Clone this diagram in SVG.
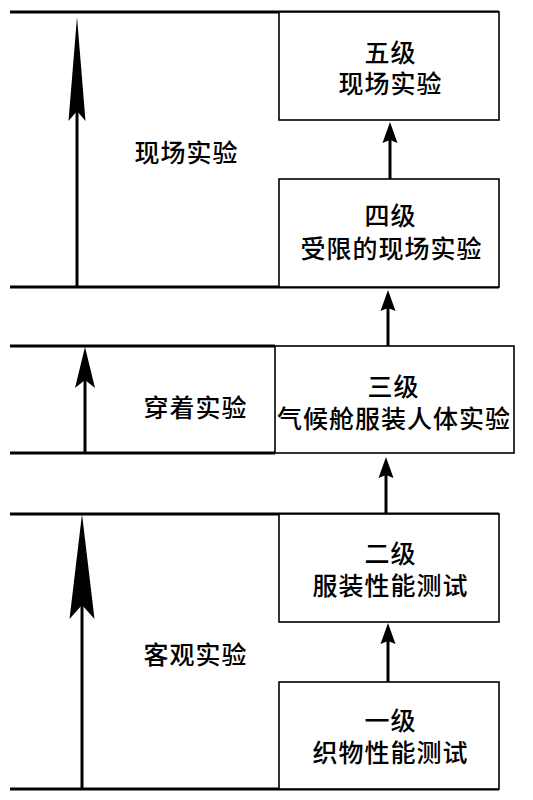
<svg xmlns="http://www.w3.org/2000/svg" width="533" height="800" viewBox="0 0 533 800">
<style>
.box{fill:#fff;stroke:#000;stroke-width:1.6}
.band{stroke:#000;stroke-width:3;fill:none}
.shaft{stroke:#000;stroke-width:3}
.head{fill:#000}
text{font-family:"Noto Sans CJK SC","Noto Sans",sans-serif;font-size:25px;font-weight:500;letter-spacing:1px;fill:#000;text-anchor:middle}
</style>
<defs>
<path id="sh" d="M0,0 L7.5,21 L0,18 L-7.5,21 Z"/>
</defs>
<rect width="533" height="800" fill="#fff"/>
<g id="bands">
<line class="band" x1="10" y1="12" x2="499" y2="12"/>
<line class="band" x1="10" y1="287" x2="499" y2="287"/>
<line class="band" x1="10" y1="346" x2="275" y2="346"/>
<line class="band" x1="10" y1="453" x2="275" y2="453"/>
<line class="band" x1="10" y1="514" x2="499" y2="514"/>
<line class="band" x1="10" y1="789" x2="499" y2="789"/>
</g>
<g id="n5"><rect class="box" x="279" y="12" width="220" height="108"/><text x="390.5" y="61.5">五级</text><text x="390.5" y="92.5">现场实验</text></g>
<g id="n4"><rect class="box" x="279" y="179" width="220" height="108"/><text x="390.5" y="224.5">四级</text><text x="391.5" y="257.5">受限的现场实验</text></g>
<g id="n3"><rect class="box" x="275" y="346" width="239" height="107"/><text x="393.5" y="395.5">三级</text><text x="394" y="427.5">气候舱服装人体实验</text></g>
<g id="n2"><rect class="box" x="279" y="514" width="220" height="108"/><text x="390.5" y="562.5">二级</text><text x="390.5" y="594.5">服装性能测试</text></g>
<g id="n1"><rect class="box" x="279" y="682" width="220" height="107"/><text x="390.5" y="729.5">一级</text><text x="390.5" y="761.5">织物性能测试</text></g>
<g id="labels">
<text x="186.5" y="161.5">现场实验</text>
<text x="195.5" y="416.5">穿着实验</text>
<text x="195.5" y="663.5">客观实验</text>
</g>
<g id="connectors">
<line class="shaft" x1="390" y1="138" x2="390" y2="179"/><use href="#sh" x="390" y="122"/>
<line class="shaft" x1="388" y1="306" x2="388" y2="346"/><use href="#sh" x="388" y="290"/>
<line class="shaft" x1="386" y1="473" x2="386" y2="514"/><use href="#sh" x="386" y="457"/>
<line class="shaft" x1="388" y1="640" x2="388" y2="682"/><use href="#sh" x="388" y="623"/>
<line class="shaft" x1="77" y1="110" x2="77" y2="287"/><polygon class="head" points="77,17 85.5,121 77,111 68.5,121"/>
<line class="shaft" x1="85" y1="380" x2="85" y2="453"/><polygon class="head" points="85,347 95,388 85,380 75,388"/>
<line class="shaft" x1="82" y1="605" x2="82" y2="789"/><polygon class="head" points="82,514 94.5,619 82,605 69.5,619"/>
</g>
</svg>
